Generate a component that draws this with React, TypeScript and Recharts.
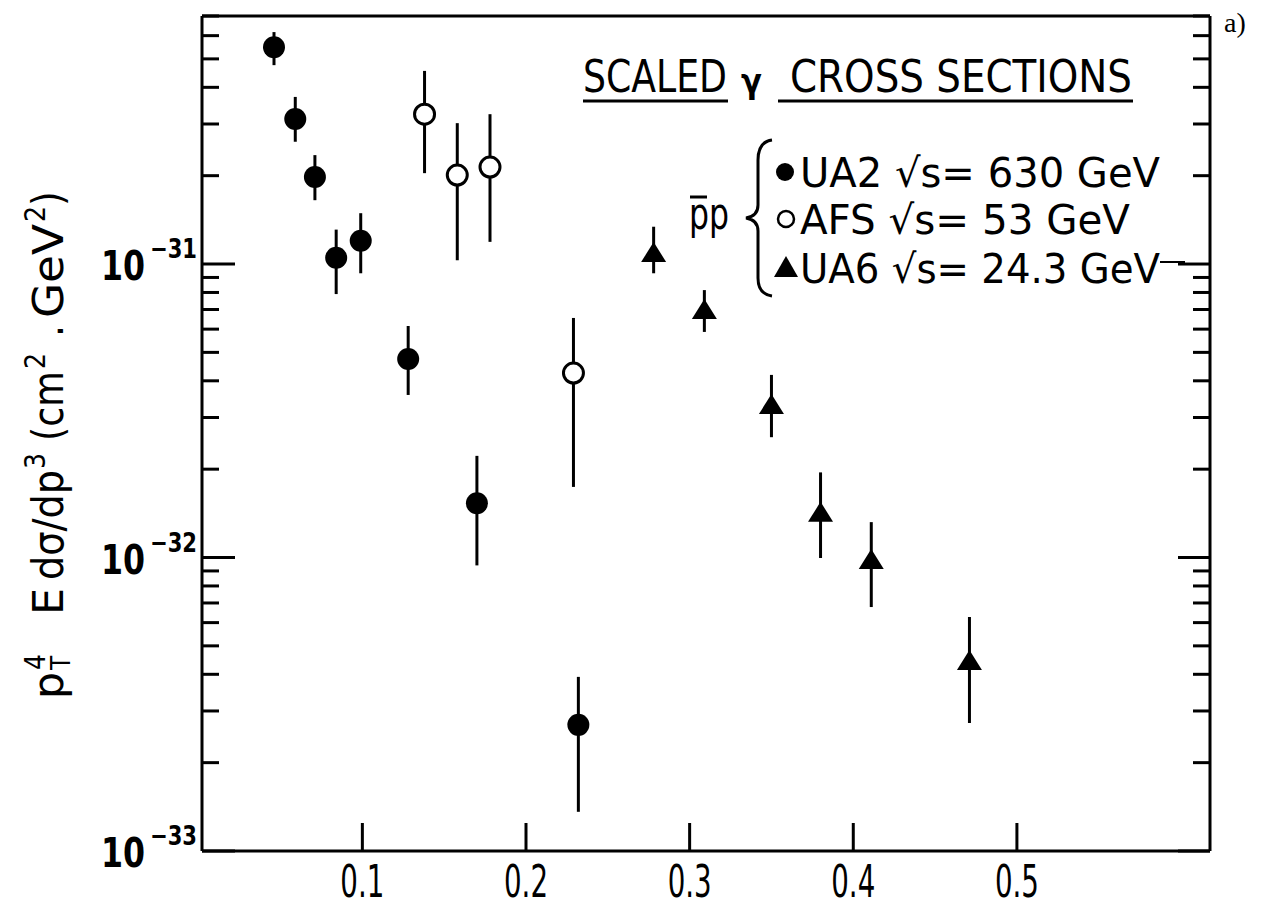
import { ScatterChart, Scatter, XAxis, YAxis, ErrorBar } from 'recharts'

// UA2, sqrt(s) = 630 GeV (filled circles)
const ua2X = [0.046, 0.059, 0.071, 0.084, 0.099, 0.128, 0.17, 0.232]
const ua2Y = [5.48e-31, 3.12e-31, 1.98e-31, 1.05e-31, 1.2e-31, 4.75e-32, 1.53e-32, 2.69e-33]
const ua2Lo = [4.76e-31, 2.61e-31, 1.65e-31, 7.9e-32, 9.3e-32, 3.58e-32, 9.4e-33, 1.36e-33]
const ua2Hi = [6.17e-31, 3.71e-31, 2.35e-31, 1.31e-31, 1.49e-31, 6.15e-32, 2.22e-32, 3.92e-33]

// AFS, sqrt(s) = 53 GeV (open circles)
const afsX = [0.138, 0.158, 0.178, 0.229]
const afsY = [3.24e-31, 2.01e-31, 2.14e-31, 4.25e-32]
const afsLo = [2.04e-31, 1.03e-31, 1.19e-31, 1.74e-32]
const afsHi = [4.55e-31, 3.02e-31, 3.24e-31, 6.55e-32]

// UA6, sqrt(s) = 24.3 GeV (triangles)
const ua6X = [0.278, 0.309, 0.35, 0.38, 0.411, 0.471]
const ua6Y = [1.09e-31, 6.97e-32, 3.31e-32, 1.42e-32, 9.8e-33, 4.44e-33]
const ua6Lo = [9.3e-32, 5.87e-32, 2.57e-32, 9.96e-33, 6.78e-33, 2.73e-33]
const ua6Hi = [1.34e-31, 8.15e-32, 4.19e-32, 1.95e-32, 1.32e-32, 6.27e-33]

const xTicks = [0.1, 0.2, 0.3, 0.4, 0.5]
const xLabels = ['0.1', '0.2', '0.3', '0.4', '0.5']
const yDecades = [1e-33, 1e-32, 1e-31]
const yMantissas = [1, 2, 3, 4, 5, 6, 7, 8, 9]
const X_DOMAIN = [0.002, 0.618]
const Y_DOMAIN = [1e-33, 7e-31]

const yTicks: number[] = []
yDecades.forEach(d => yMantissas.forEach(m => { if (m * d <= Y_DOMAIN[1] * 1.0001) yTicks.push(m * d) }))

const build = (xs: number[], ys: number[], lo: number[], hi: number[]) =>
  xs.map((x, i) => ({ x, y: ys[i], err: [ys[i] - lo[i], hi[i] - ys[i]] }))

const ua2 = build(ua2X, ua2Y, ua2Lo, ua2Hi)
const afs = build(afsX, afsY, afsLo, afsHi)
const ua6 = build(ua6X, ua6Y, ua6Lo, ua6Hi)

const FONT = "'Liberation Sans Narrow', 'DejaVu Sans Condensed', 'DejaVu Sans', sans-serif"
const INK = '#000'

const isMajor = (v: number) => Math.abs(Math.log10(v) - Math.round(Math.log10(v))) < 1e-6

function LeftTick(p: any) {
  const { x, y, payload } = p
  const v = payload.value
  const major = isMajor(v)
  const e = Math.round(Math.log10(v))
  return (
    <g>
      <line x1={x} x2={x + (major ? 33 : 17)} y1={y} y2={y} stroke={INK} strokeWidth={3} />
      {major && (
        <g fontFamily={FONT} fill={INK} fontWeight={600}>
          <text x={x - 101} y={y + 16} fontSize={40} textLength={44} lengthAdjust="spacingAndGlyphs">10</text>
          <text x={x - 52} y={y - 6} fontSize={27} textLength={47} lengthAdjust="spacingAndGlyphs">{'\u2212' + String(-e)}</text>
        </g>
      )}
    </g>
  )
}

function RightTick(p: any) {
  const { x, y, payload } = p
  const major = isMajor(payload.value)
  return <line x1={x} x2={x - (major ? 32 : 17)} y1={y} y2={y} stroke={INK} strokeWidth={3} />
}

function BottomTick(p: any) {
  const { x, y, index } = p
  return (
    <g>
      <line x1={x} x2={x} y1={y} y2={y - 28} stroke={INK} strokeWidth={3} />
      <text x={x} y={y + 46} textAnchor="middle" fontFamily={FONT} fontSize={44}
        textLength={44} lengthAdjust="spacingAndGlyphs" fill={INK}>{xLabels[index]}</text>
    </g>
  )
}

function TopTick(p: any) {
  const { x, y } = p
  return <line x1={x} x2={x} y1={y} y2={y + 30} stroke={INK} strokeWidth={3} />
}

const FilledDot = (p: any) => <circle cx={p.cx} cy={p.cy} r={11} fill={INK} />
const OpenDot = (p: any) => <circle cx={p.cx} cy={p.cy} r={10} fill="#fff" stroke={INK} strokeWidth={3} />
const Tri = (p: any) => (
  <polygon points={`${p.cx},${p.cy - 11} ${p.cx + 12.5},${p.cy + 9} ${p.cx - 12.5},${p.cy + 9}`} fill={INK} />
)

const axisLine = { stroke: INK, strokeWidth: 3 }

function Annotations() {
  const t = { fontFamily: FONT, fill: INK }
  return (
    <svg width={1262} height={910} style={{ position: 'absolute', left: 0, top: 0, pointerEvents: 'none' }}>
      {/* title */}
      <text x={583} y={92} fontSize={44} textLength={144} lengthAdjust="spacingAndGlyphs" {...t}>SCALED</text>
      <text x={741} y={93} fontSize={34} fontWeight="bold" {...t}>γ</text>
      <text x={790} y={92} fontSize={44} textLength={342} lengthAdjust="spacingAndGlyphs" {...t}>CROSS SECTIONS</text>
      <line x1={583} x2={728} y1={101} y2={101} stroke={INK} strokeWidth={3} />
      <line x1={778} x2={1133} y1={101} y2={101} stroke={INK} strokeWidth={3} />

      {/* legend */}
      <text x={689} y={229} fontSize={44} textLength={40} lengthAdjust="spacingAndGlyphs" {...t}>pp</text>
      <line x1={690} x2={707} y1={197} y2={197} stroke={INK} strokeWidth={3} />
      <path d="M772 140 Q758 142 758 160 L758 205 Q758 216 746 218 Q758 220 758 231 L758 278 Q758 294 772 296"
        fill="none" stroke={INK} strokeWidth={3} />
      <circle cx={785} cy={172} r={9} fill={INK} />
      <text x={800} y={187} fontSize={40} textLength={360} lengthAdjust="spacingAndGlyphs" {...t}>UA2 √s= 630 GeV</text>
      <circle cx={786} cy={219} r={8} fill="none" stroke={INK} strokeWidth={2.5} />
      <text x={800} y={234} fontSize={40} textLength={330} lengthAdjust="spacingAndGlyphs" {...t}>AFS √s= 53 GeV</text>
      <polygon points="786,256 798,277 774,277" fill={INK} />
      <text x={800} y={283} fontSize={40} textLength={360} lengthAdjust="spacingAndGlyphs" {...t}>UA6 √s= 24.3 GeV</text>
      <line x1={1160} x2={1185} y1={262} y2={262} stroke={INK} strokeWidth={2} />

      {/* y axis title, rotated */}
      <g transform="translate(63,0) rotate(-90)" {...t}>
        <text x={-699} y={0} fontSize={42} textLength={27} lengthAdjust="spacingAndGlyphs">p</text>
        <text x={-670} y={-18} fontSize={28}>4</text>
        <text x={-670} y={7} fontSize={26}>T</text>
        <text x={-615} y={0} fontSize={42} textLength={27} lengthAdjust="spacingAndGlyphs">E</text>
        <text x={-580} y={0} fontSize={42} textLength={110} lengthAdjust="spacingAndGlyphs">dσ/dp</text>
        <text x={-469} y={-18} fontSize={28}>3</text>
        <text x={-441} y={0} fontSize={42} textLength={70} lengthAdjust="spacingAndGlyphs">(cm</text>
        <text x={-369} y={-18} fontSize={28}>2</text>
        <text x={-337} y={0} fontSize={42}>.</text>
        <text x={-318} y={0} fontSize={42} textLength={94} lengthAdjust="spacingAndGlyphs">GeV</text>
        <text x={-222} y={-18} fontSize={28}>2</text>
        <text x={-206} y={0} fontSize={42}>)</text>
      </g>

      <text x={1224} y={32} fontSize={28} fontFamily="'Liberation Serif', serif" fill={INK}>a)</text>
    </svg>
  )
}

export default function App() {
  return (
    <div style={{ position: 'absolute', left: 0, top: 0, width: 1262, height: 910, background: '#fff' }}>
      <ScatterChart width={1262} height={910} margin={{ top: 0, right: 0, bottom: 0, left: 0 }}>
        <XAxis xAxisId="b" dataKey="x" type="number" orientation="bottom" domain={X_DOMAIN} allowDataOverflow
          ticks={xTicks} interval={0} height={59} tickSize={0} tickMargin={0} tickLine={false}
          axisLine={axisLine} tick={BottomTick} />
        <XAxis xAxisId="t" type="number" orientation="top" domain={X_DOMAIN} allowDataOverflow
          ticks={xTicks} interval={0} height={16} tickSize={0} tickMargin={0} tickLine={false}
          axisLine={axisLine} tick={TopTick} />
        <YAxis yAxisId="l" dataKey="y" type="number" scale="log" domain={Y_DOMAIN} allowDataOverflow
          ticks={yTicks} interval={0} width={202} tickSize={0} tickMargin={0} tickLine={false}
          axisLine={axisLine} tick={LeftTick} />
        <YAxis yAxisId="r" type="number" scale="log" orientation="right" domain={Y_DOMAIN} allowDataOverflow
          ticks={yTicks} interval={0} width={52} tickSize={0} tickMargin={0} tickLine={false}
          axisLine={axisLine} tick={RightTick} />
        <Scatter data={ua2} xAxisId="b" yAxisId="l" shape={FilledDot} isAnimationActive={false}>
          <ErrorBar dataKey="err" direction="y" width={0} stroke={INK} strokeWidth={3} isAnimationActive={false} />
        </Scatter>
        <Scatter data={afs} xAxisId="b" yAxisId="l" shape={OpenDot} isAnimationActive={false}>
          <ErrorBar dataKey="err" direction="y" width={0} stroke={INK} strokeWidth={3} isAnimationActive={false} />
        </Scatter>
        <Scatter data={ua6} xAxisId="b" yAxisId="l" shape={Tri} isAnimationActive={false}>
          <ErrorBar dataKey="err" direction="y" width={0} stroke={INK} strokeWidth={3} isAnimationActive={false} />
        </Scatter>
      </ScatterChart>
      <Annotations />
    </div>
  )
}
